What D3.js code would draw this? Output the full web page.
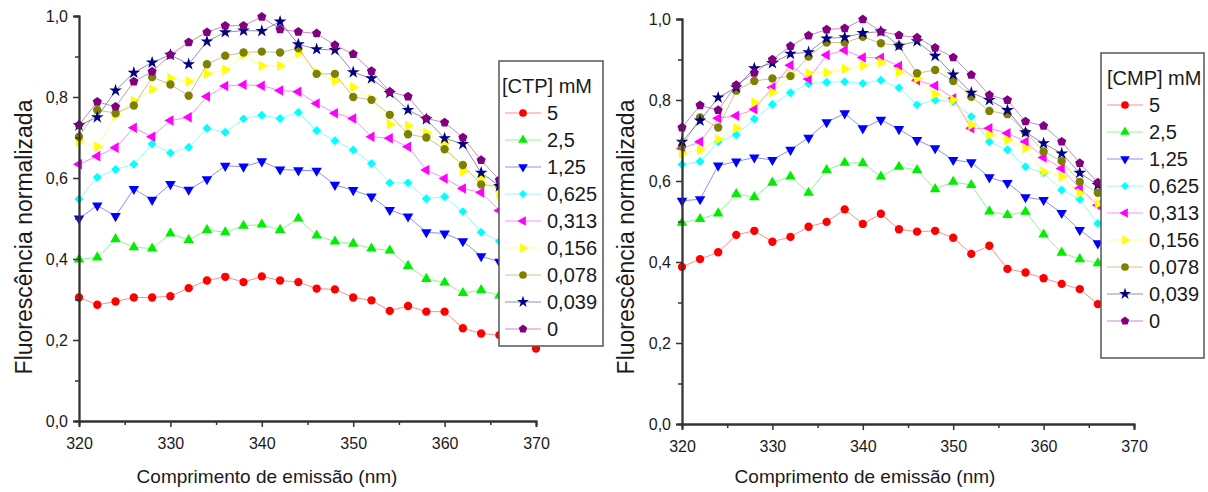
<!DOCTYPE html>
<html>
<head>
<meta charset="utf-8">
<script src="https://cdn.jsdelivr.net/npm/d3@7"></script>
<style>
  body { margin: 0; background: #fff; }
  text { font-family: "Liberation Sans", Arial, sans-serif; fill: #1a1a1a; }
</style>
</head>
<body>
<div id="chart"></div>
<script>
// emission wavelengths (nm)
const wavelengthsCTP = [320, 322, 324, 326, 328, 330, 332, 334, 336, 338, 340, 342, 344, 346, 348, 350, 352, 354, 356, 358, 360, 362, 364, 366, 368, 370];
const wavelengthsCMP = [320, 322, 324, 326, 328, 330, 332, 334, 336, 338, 340, 342, 344, 346, 348, 350, 352, 354, 356, 358, 360, 362, 364, 366];

const concLabels = ["5", "2,5", "1,25", "0,625", "0,313", "0,156", "0,078", "0,039", "0"];
const xTicks = [320, 330, 340, 350, 360, 370];
const yTicks = [0, 0.2, 0.4, 0.6, 0.8, 1.0];

// [CTP] panel
const ctp5    = [0.305, 0.287, 0.295, 0.305, 0.305, 0.308, 0.328, 0.347, 0.356, 0.343, 0.357, 0.347, 0.343, 0.327, 0.325, 0.305, 0.298, 0.272, 0.284, 0.270, 0.270, 0.229, 0.216, 0.212, 0.205, 0.179];
const ctp2_5  = [0.399, 0.404, 0.449, 0.429, 0.426, 0.463, 0.447, 0.472, 0.466, 0.482, 0.485, 0.472, 0.500, 0.458, 0.443, 0.438, 0.426, 0.421, 0.383, 0.351, 0.342, 0.316, 0.323, 0.310, 0.300, 0.285];
const ctp1_25 = [0.500, 0.532, 0.506, 0.573, 0.546, 0.585, 0.571, 0.597, 0.630, 0.628, 0.641, 0.621, 0.619, 0.618, 0.583, 0.570, 0.554, 0.521, 0.505, 0.466, 0.463, 0.444, 0.407, 0.393, 0.370, 0.350];
const ctp0_625 = [0.548, 0.602, 0.621, 0.634, 0.684, 0.662, 0.676, 0.723, 0.713, 0.746, 0.755, 0.747, 0.762, 0.717, 0.692, 0.669, 0.636, 0.588, 0.588, 0.549, 0.554, 0.517, 0.466, 0.444, 0.420, 0.400];
const ctp0_313 = [0.634, 0.654, 0.675, 0.724, 0.702, 0.742, 0.750, 0.801, 0.827, 0.830, 0.828, 0.816, 0.813, 0.784, 0.760, 0.747, 0.702, 0.698, 0.677, 0.620, 0.599, 0.574, 0.564, 0.520, 0.500, 0.480];
const ctp0_156 = [0.690, 0.677, 0.755, 0.790, 0.819, 0.846, 0.838, 0.858, 0.867, 0.905, 0.877, 0.877, 0.908, 0.860, 0.840, 0.824, 0.795, 0.733, 0.729, 0.712, 0.686, 0.616, 0.600, 0.560, 0.540, 0.500];
const ctp0_078 = [0.702, 0.768, 0.760, 0.779, 0.849, 0.831, 0.803, 0.881, 0.902, 0.910, 0.912, 0.910, 0.920, 0.857, 0.857, 0.800, 0.793, 0.756, 0.708, 0.700, 0.671, 0.632, 0.584, 0.579, 0.550, 0.520];
const ctp0_039 = [0.730, 0.750, 0.816, 0.860, 0.885, 0.904, 0.881, 0.937, 0.960, 0.964, 0.963, 0.986, 0.930, 0.918, 0.916, 0.861, 0.846, 0.810, 0.768, 0.745, 0.698, 0.684, 0.613, 0.580, 0.550, 0.520];
const ctp0     = [0.731, 0.788, 0.776, 0.838, 0.863, 0.904, 0.935, 0.960, 0.976, 0.976, 0.998, 0.967, 0.961, 0.957, 0.928, 0.906, 0.864, 0.813, 0.801, 0.747, 0.737, 0.700, 0.644, 0.595, 0.560, 0.520];

// [CMP] panel
const cmp5    = [0.388, 0.407, 0.424, 0.467, 0.477, 0.450, 0.462, 0.487, 0.499, 0.530, 0.494, 0.519, 0.481, 0.475, 0.477, 0.460, 0.420, 0.440, 0.383, 0.374, 0.360, 0.346, 0.333, 0.296];
const cmp2_5  = [0.497, 0.506, 0.520, 0.568, 0.560, 0.596, 0.611, 0.571, 0.627, 0.645, 0.644, 0.611, 0.635, 0.627, 0.580, 0.598, 0.590, 0.525, 0.516, 0.524, 0.468, 0.423, 0.407, 0.397];
const cmp1_25 = [0.551, 0.555, 0.638, 0.648, 0.658, 0.652, 0.677, 0.707, 0.745, 0.767, 0.730, 0.751, 0.728, 0.701, 0.681, 0.652, 0.646, 0.609, 0.595, 0.560, 0.553, 0.521, 0.479, 0.446];
const cmp0_625 = [0.641, 0.648, 0.697, 0.714, 0.753, 0.789, 0.818, 0.840, 0.844, 0.845, 0.841, 0.849, 0.830, 0.788, 0.800, 0.796, 0.759, 0.697, 0.677, 0.635, 0.620, 0.578, 0.555, 0.495];
const cmp0_313 = [0.680, 0.697, 0.755, 0.761, 0.777, 0.831, 0.886, 0.852, 0.911, 0.923, 0.905, 0.904, 0.884, 0.849, 0.835, 0.804, 0.730, 0.730, 0.718, 0.697, 0.658, 0.631, 0.582, 0.540];
const cmp0_156 = [0.668, 0.677, 0.703, 0.730, 0.794, 0.819, 0.863, 0.866, 0.868, 0.877, 0.885, 0.893, 0.869, 0.853, 0.814, 0.800, 0.738, 0.714, 0.701, 0.681, 0.623, 0.611, 0.570, 0.543];
const cmp0_078 = [0.685, 0.757, 0.732, 0.823, 0.847, 0.853, 0.859, 0.907, 0.942, 0.942, 0.956, 0.940, 0.934, 0.866, 0.874, 0.847, 0.808, 0.773, 0.765, 0.720, 0.673, 0.649, 0.598, 0.571];
const cmp0_039 = [0.697, 0.749, 0.806, 0.831, 0.878, 0.891, 0.914, 0.918, 0.952, 0.955, 0.965, 0.969, 0.934, 0.945, 0.909, 0.863, 0.818, 0.800, 0.775, 0.720, 0.693, 0.668, 0.620, 0.590];
const cmp0     = [0.732, 0.787, 0.775, 0.837, 0.867, 0.900, 0.933, 0.959, 0.974, 0.977, 0.999, 0.969, 0.960, 0.954, 0.929, 0.905, 0.862, 0.812, 0.800, 0.747, 0.736, 0.697, 0.644, 0.596];

// marker look per concentration (Origin default colours)
const colors = ["#ff0000", "#00ee00", "#0000ff", "#00ffff", "#ff00ff", "#ffff00", "#808000", "#000080", "#800080"];

const symbolPentagon = {
  draw(ctx, size) {
    const r = Math.sqrt(size / (2.5 * Math.sin(2 * Math.PI / 5)));
    for (let i = 0; i < 5; i++) {
      const a = -Math.PI / 2 + i * 2 * Math.PI / 5;
      if (i) ctx.lineTo(r * Math.cos(a), r * Math.sin(a));
      else ctx.moveTo(r * Math.cos(a), r * Math.sin(a));
    }
    ctx.closePath();
  }
};

const markers = [
  { type: d3.symbolCircle, size: 55, rot: 0 },
  { type: d3.symbolTriangle, size: 48, rot: 0 },
  { type: d3.symbolTriangle, size: 48, rot: 180 },
  { type: d3.symbolSquare, size: 40, rot: 45 },
  { type: d3.symbolTriangle, size: 48, rot: -90 },
  { type: d3.symbolTriangle, size: 48, rot: 90 },
  { type: d3.symbolCircle, size: 55, rot: 0 },
  { type: d3.symbolStar, size: 50, rot: 0 },
  { type: symbolPentagon, size: 55, rot: 0 }
];

class FluorescencePanel {
  constructor(svg, opts) {
    this.svg = svg;
    Object.assign(this, opts);
    this.draw();
  }

  draw() {
    this.plot = this.svg.append("g");
    this.createScales();
    this.drawLines();
    this.drawAxis();
    this.drawLegend();
  }

  createScales() {
    this.xScale = d3.scaleLinear().domain([320, 370]).range([this.box.left, this.box.right]);
    this.yScale = d3.scaleLinear().domain([0, 1]).range([this.box.bottom, this.box.top]);
  }

  drawAxis() {
    const axisColor = "#333";
    // X axis, major + minor
    const xg = this.plot.append("g").attr("transform", `translate(0,${this.box.bottom})`);
    xg.call(d3.axisBottom(this.xScale).tickValues([325, 335, 345, 355, 365]).tickSize(4).tickFormat(""));
    xg.call(g => g.selectAll(".tick line").attr("stroke", axisColor).attr("stroke-width", 1.5));
    const xg2 = this.plot.append("g").attr("transform", `translate(0,${this.box.bottom})`);
    xg2.call(d3.axisBottom(this.xScale).tickValues(xTicks).tickSize(6).tickPadding(11));
    xg2.selectAll(".tick line").attr("stroke", axisColor).attr("stroke-width", 1.5);
    xg2.selectAll("text").attr("font-size", 16).attr("fill", "#1a1a1a").style("font-family", "Liberation Sans, Arial, sans-serif");
    [xg, xg2].forEach(g => g.select(".domain").attr("stroke", axisColor).attr("stroke-width", 1.8));

    // Y axis, major + minor
    const yg = this.plot.append("g").attr("transform", `translate(${this.box.left},0)`);
    yg.call(d3.axisLeft(this.yScale).tickValues([0.1, 0.3, 0.5, 0.7, 0.9]).tickSize(4).tickFormat(""));
    yg.selectAll(".tick line").attr("stroke", axisColor).attr("stroke-width", 1.5);
    const yg2 = this.plot.append("g").attr("transform", `translate(${this.box.left},0)`);
    yg2.call(d3.axisLeft(this.yScale).tickValues(yTicks).tickSize(6).tickPadding(5)
      .tickFormat(d => d3.format(".1f")(d).replace(".", ",")));
    yg2.selectAll(".tick line").attr("stroke", axisColor).attr("stroke-width", 1.5);
    yg2.selectAll("text").attr("font-size", 16).attr("fill", "#1a1a1a").style("font-family", "Liberation Sans, Arial, sans-serif");
    [yg, yg2].forEach(g => g.select(".domain").attr("stroke", axisColor).attr("stroke-width", 1.8));

    // titles
    this.plot.append("text")
      .attr("x", this.xTitleX).attr("y", 483)
      .attr("text-anchor", "middle").attr("font-size", 19)
      .text("Comprimento de emissão (nm)");
    this.plot.append("text")
      .attr("transform", `translate(${this.yTitleX},237) rotate(-90)`)
      .attr("text-anchor", "middle").attr("font-size", 23)
      .text("Fluorescência normalizada");
  }

  drawLines() {
    const visual = this.plot.append("g");
    this.series.forEach((values, i) => {
      const pts = values.map((v, j) => ({ x: this.wavelengths[j], y: v }));
      const line = d3.line().x(d => this.xScale(d.x)).y(d => this.yScale(d.y));
      visual.append("path")
        .datum(pts)
        .attr("d", line)
        .attr("fill", "none")
        .attr("stroke", colors[i])
        .attr("stroke-opacity", 0.45)
        .attr("stroke-width", 1);
      const m = markers[i];
      visual.append("g").selectAll("path")
        .data(pts)
        .join("path")
        .attr("transform", d => `translate(${this.xScale(d.x)},${this.yScale(d.y)}) rotate(${m.rot})`)
        .attr("d", d3.symbol(m.type, m.size))
        .attr("fill", colors[i]);
    });
  }

  drawLegend() {
    const lg = this.legend;
    const g = this.plot.append("g");
    g.append("rect")
      .attr("x", lg.x).attr("y", lg.y).attr("width", lg.w).attr("height", lg.h)
      .attr("fill", "#fff").attr("stroke", "#555").attr("stroke-width", 1.5);
    g.append("text")
      .attr("x", lg.x + lg.titleDx).attr("y", lg.y + 32)
      .attr("font-size", 20)
      .text(this.title);
    concLabels.forEach((label, i) => {
      const cy = lg.y + 52 + i * 27;
      const cx = lg.x + lg.symDx;
      g.append("line")
        .attr("x1", cx - 18).attr("x2", cx + 18).attr("y1", cy).attr("y2", cy)
        .attr("stroke", colors[i]).attr("stroke-opacity", 0.45);
      g.append("path")
        .attr("transform", `translate(${cx},${cy}) rotate(${markers[i].rot})`)
        .attr("d", d3.symbol(markers[i].type, markers[i].size * 0.85))
        .attr("fill", colors[i]);
      g.append("text")
        .attr("x", cx + 24).attr("y", cy + 7)
        .attr("font-size", 20)
        .text(label);
    });
  }
}

const svg = d3.select("#chart").append("svg")
  .attr("width", 1208).attr("height", 492)
  .attr("viewBox", [0, 0, 1208, 492]);
svg.append("rect").attr("width", 1208).attr("height", 492).attr("fill", "#fff");

new FluorescencePanel(svg, {
  box: { left: 79, right: 536, top: 16, bottom: 421 },
  wavelengths: wavelengthsCTP,
  series: [ctp5, ctp2_5, ctp1_25, ctp0_625, ctp0_313, ctp0_156, ctp0_078, ctp0_039, ctp0],
  title: "[CTP] mM",
  legend: { x: 499, y: 61, w: 104, h: 285, titleDx: 3, symDx: 24 },
  xTitleX: 267,
  yTitleX: 32
});

new FluorescencePanel(svg, {
  box: { left: 682, right: 1134, top: 19, bottom: 424 },
  wavelengths: wavelengthsCMP,
  series: [cmp5, cmp2_5, cmp1_25, cmp0_625, cmp0_313, cmp0_156, cmp0_078, cmp0_039, cmp0],
  title: "[CMP] mM",
  legend: { x: 1101, y: 53, w: 103, h: 305, titleDx: 6, symDx: 24 },
  xTitleX: 865,
  yTitleX: 634
});
</script>
</body>
</html>
